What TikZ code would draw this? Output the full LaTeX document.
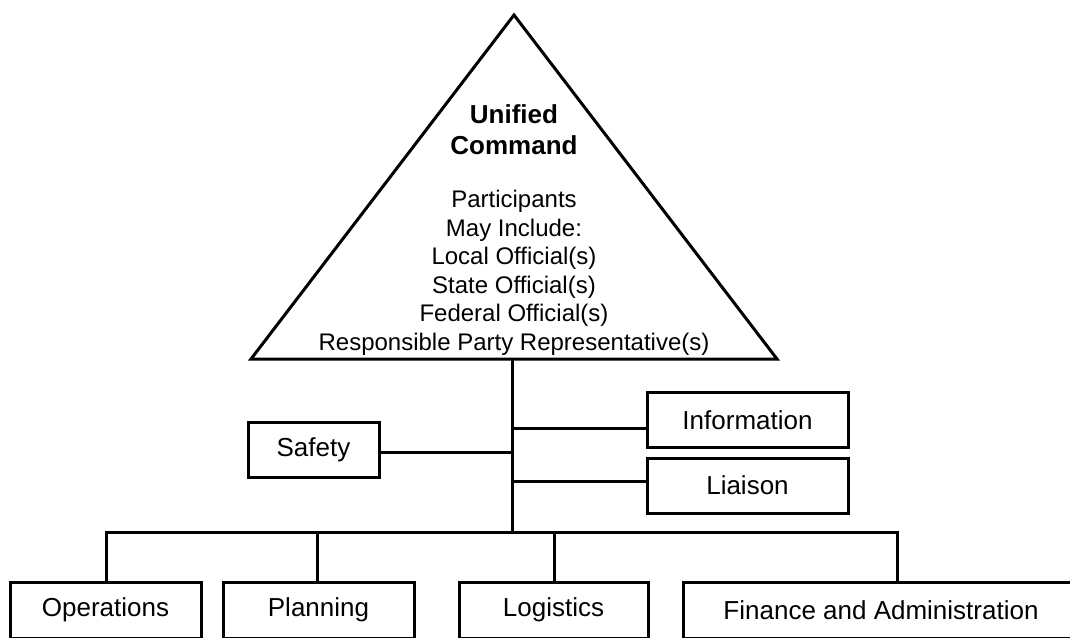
\documentclass[tikz,border=0pt]{standalone}
\usepackage{fontspec}
\setmainfont{Liberation Sans}
\usepackage{tikz}
\usetikzlibrary{positioning, calc}

\begin{document}
\begin{tikzpicture}[x=1pt, y=-1pt, line width=3pt, line join=miter,
    unit/.style={draw, line width=3pt, inner sep=0pt, minimum height=55pt,
                 font=\fontsize{26}{31}\selectfont}]
  \useasboundingbox (0,0) rectangle (1070,637);

  \coordinate (apex) at (514,15);
  \coordinate (bl) at (251,359);
  \coordinate (br) at (777,359);
  \draw (bl) -- (apex) -- (br) -- cycle;
  \node[font=\fontsize{26}{31}\selectfont\bfseries, align=center]
    (uc) at (514,130) {Unified\\Command};
  \node[font=\fontsize{24}{28.5}\selectfont, align=center]
    (members) at (514,273) {Participants\\May Include:\\Local Official(s)\\State Official(s)\\Federal Official(s)\\Responsible Party Representative(s)};

  \coordinate (top) at (512,359);
  \coordinate (bus) at (512,532);
  \draw (top) -- (bus);

  \node[unit, minimum width=131pt] (safety) at (313.5,450) {Safety};
  \node[unit, minimum width=201pt] (info) at (747.5,420) {Information};
  \node[unit, minimum width=201pt] (liaison) at (747.5,485.5) {Liaison};
  \coordinate (jsafety) at (512,452);
  \coordinate (jinfo) at (512,428);
  \coordinate (jliaison) at (512,481);
  \draw (jsafety) -- (jsafety -| safety.east);
  \draw (jinfo) -- (jinfo -| info.west);
  \draw (jliaison) -- (jliaison -| liaison.west);

  \node[unit, minimum width=191pt, minimum height=56pt] (ops) at (105.5,610) {Operations};
  \node[unit, minimum width=191pt, minimum height=56pt] (plan) at (318.5,610) {Planning};
  \node[unit, minimum width=189pt, minimum height=56pt] (logi) at (553.5,610) {Logistics};
  \node[unit, minimum width=396pt, minimum height=56pt] (fin) at (881,610) {Finance and Administration};

  \foreach \n/\x in {ops/106, plan/317, logi/554, fin/897}
    \coordinate (b\n) at (\x,532);
  \draw (bops |- ops.north) -- (bops) -- (bfin) -- (bfin |- fin.north);
  \foreach \n in {plan, logi}
    \draw (b\n) -- (b\n |- \n.north);
\end{tikzpicture}
\end{document}
